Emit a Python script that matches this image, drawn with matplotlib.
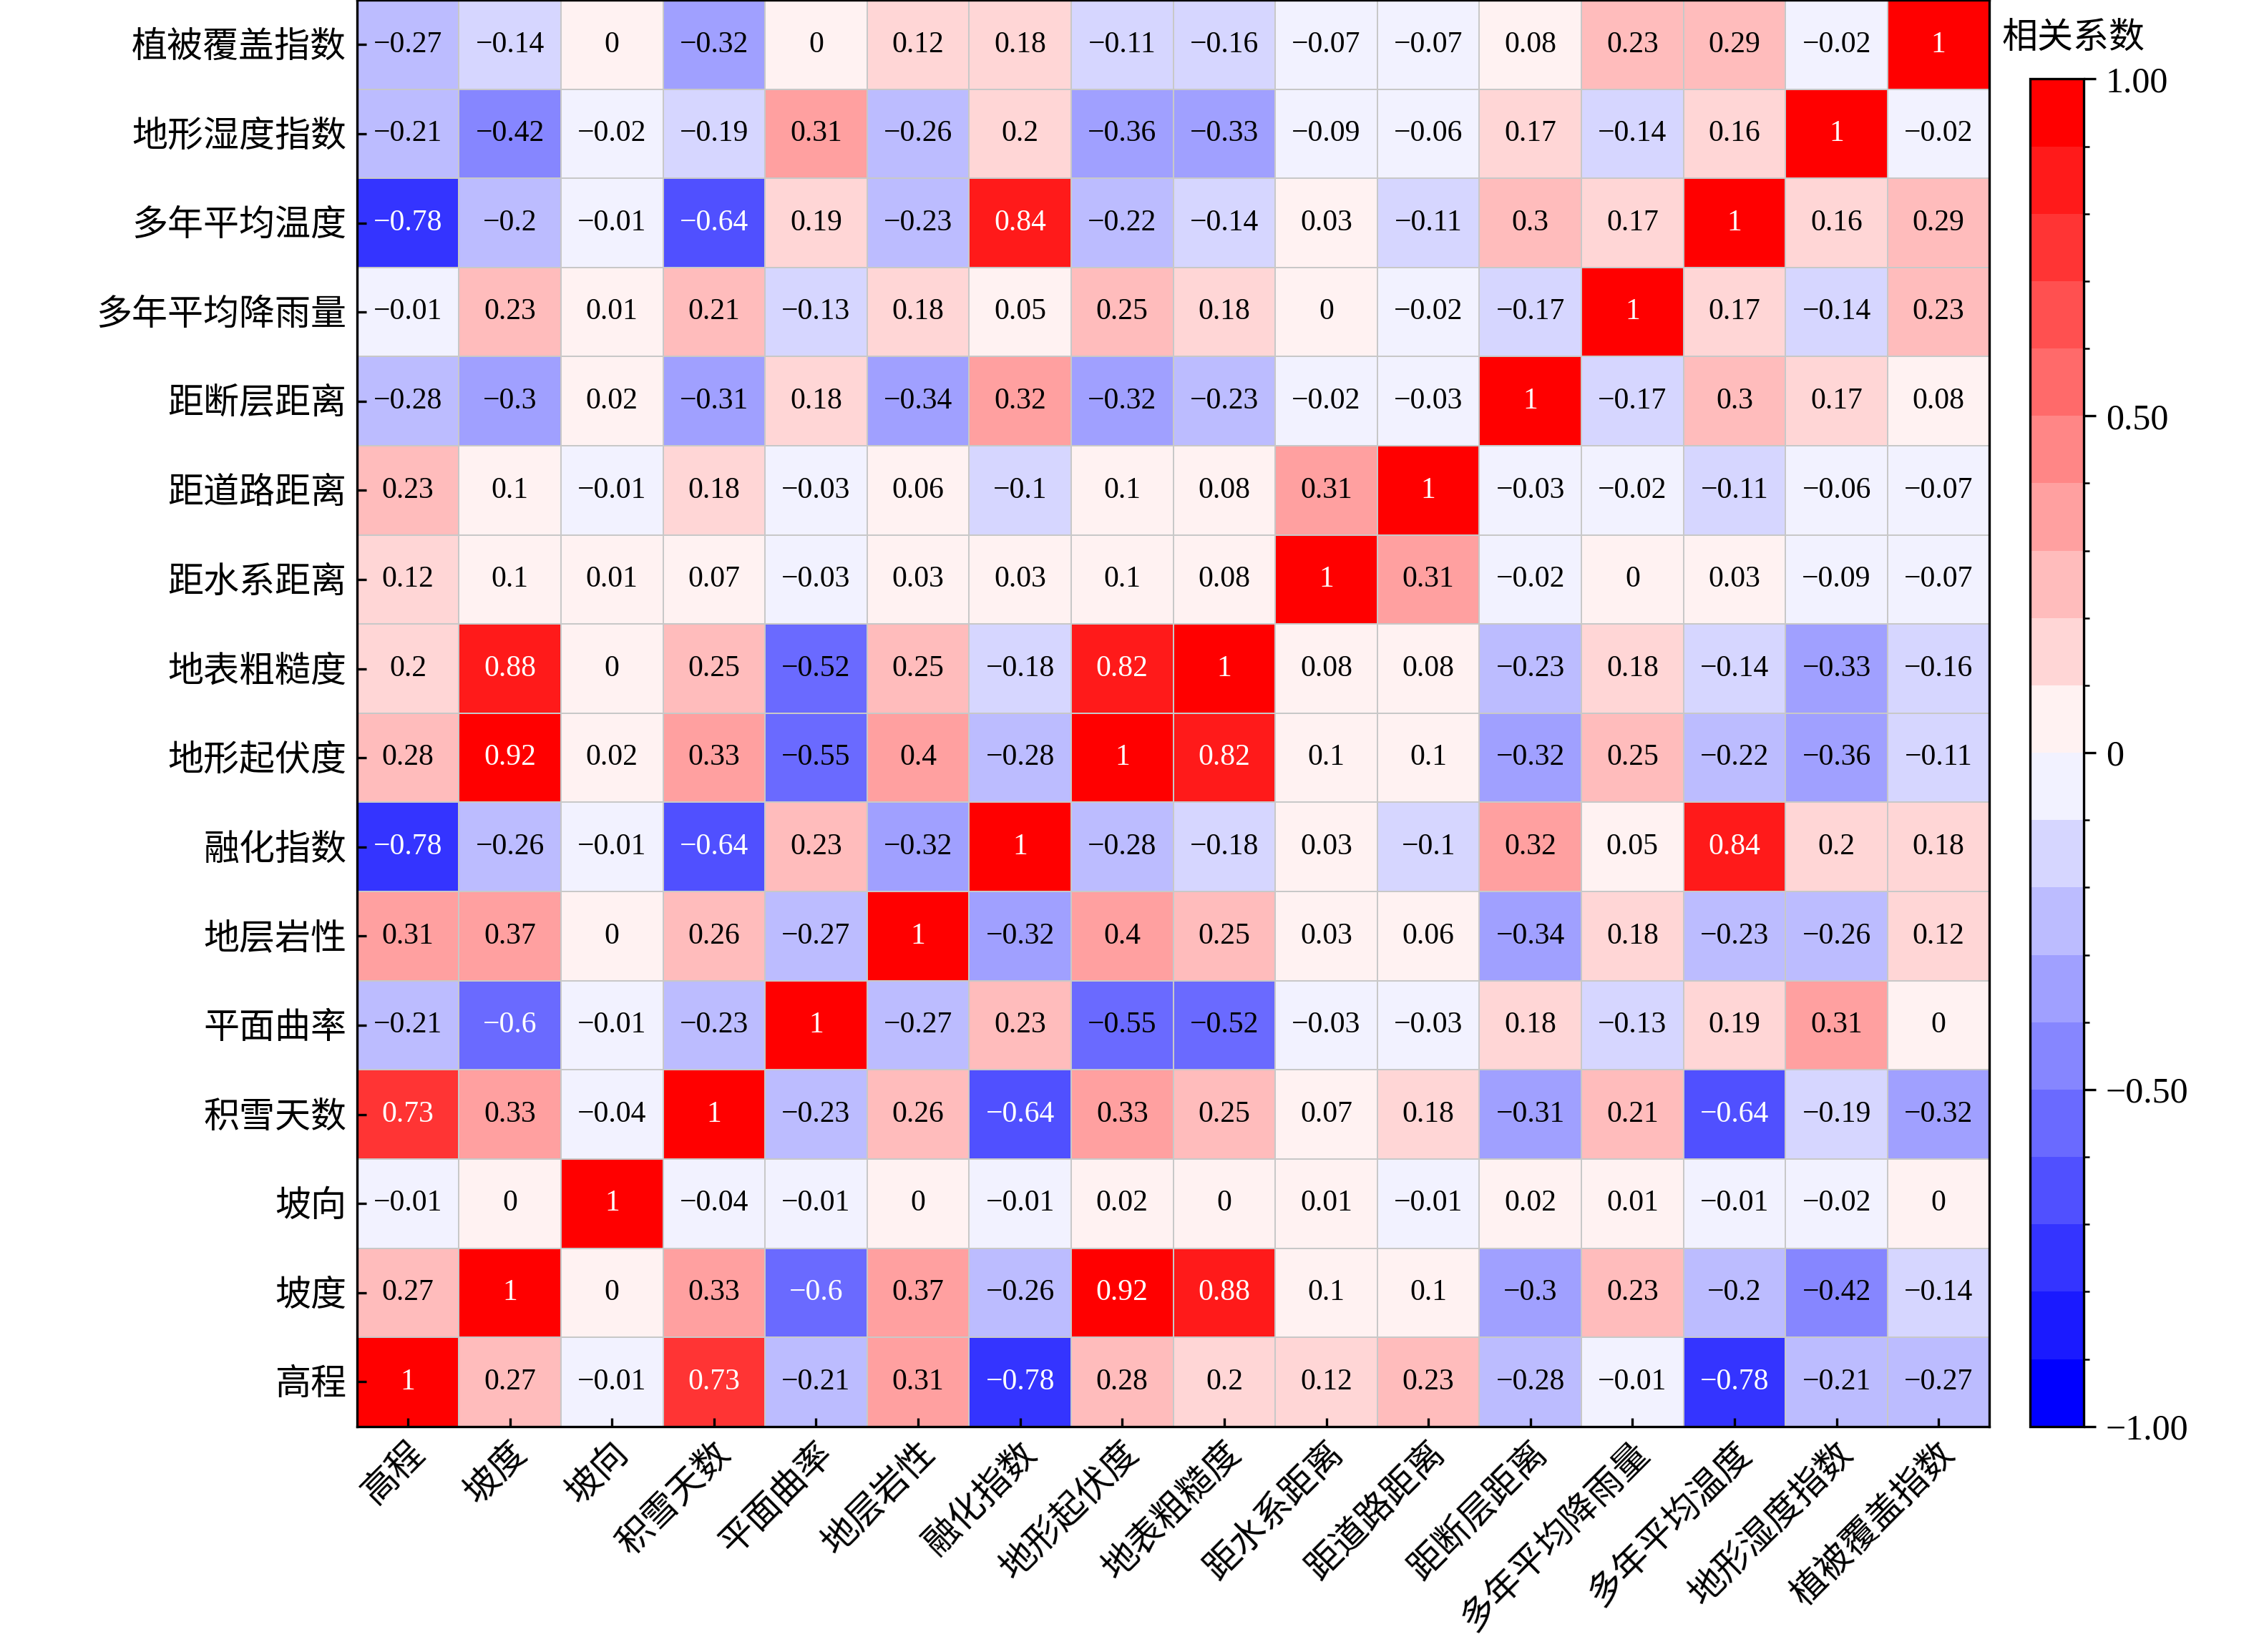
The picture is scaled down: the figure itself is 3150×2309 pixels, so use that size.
import numpy as np
import matplotlib
matplotlib.use("Agg")
import matplotlib.pyplot as plt
from matplotlib.colors import ListedColormap, BoundaryNorm

plt.rcParams['font.family'] = ['Liberation Serif', 'Noto Sans CJK SC', 'DejaVu Sans']
plt.rcParams['axes.unicode_minus'] = True

names = ['高程', '坡度', '坡向', '积雪天数', '平面曲率', '地层岩性', '融化指数', '地形起伏度',
         '地表粗糙度', '距水系距离', '距道路距离', '距断层距离', '多年平均降雨量', '多年平均温度',
         '地形湿度指数', '植被覆盖指数']

corr = np.array([
    [1, 0.27, -0.01, 0.73, -0.21, 0.31, -0.78, 0.28, 0.2, 0.12, 0.23, -0.28, -0.01, -0.78, -0.21, -0.27],
    [0.27, 1, 0, 0.33, -0.6, 0.37, -0.26, 0.92, 0.88, 0.1, 0.1, -0.3, 0.23, -0.2, -0.42, -0.14],
    [-0.01, 0, 1, -0.04, -0.01, 0, -0.01, 0.02, 0, 0.01, -0.01, 0.02, 0.01, -0.01, -0.02, 0],
    [0.73, 0.33, -0.04, 1, -0.23, 0.26, -0.64, 0.33, 0.25, 0.07, 0.18, -0.31, 0.21, -0.64, -0.19, -0.32],
    [-0.21, -0.6, -0.01, -0.23, 1, -0.27, 0.23, -0.55, -0.52, -0.03, -0.03, 0.18, -0.13, 0.19, 0.31, 0],
    [0.31, 0.37, 0, 0.26, -0.27, 1, -0.32, 0.4, 0.25, 0.03, 0.06, -0.34, 0.18, -0.23, -0.26, 0.12],
    [-0.78, -0.26, -0.01, -0.64, 0.23, -0.32, 1, -0.28, -0.18, 0.03, -0.1, 0.32, 0.05, 0.84, 0.2, 0.18],
    [0.28, 0.92, 0.02, 0.33, -0.55, 0.4, -0.28, 1, 0.82, 0.1, 0.1, -0.32, 0.25, -0.22, -0.36, -0.11],
    [0.2, 0.88, 0, 0.25, -0.52, 0.25, -0.18, 0.82, 1, 0.08, 0.08, -0.23, 0.18, -0.14, -0.33, -0.16],
    [0.12, 0.1, 0.01, 0.07, -0.03, 0.03, 0.03, 0.1, 0.08, 1, 0.31, -0.02, 0, 0.03, -0.09, -0.07],
    [0.23, 0.1, -0.01, 0.18, -0.03, 0.06, -0.1, 0.1, 0.08, 0.31, 1, -0.03, -0.02, -0.11, -0.06, -0.07],
    [-0.28, -0.3, 0.02, -0.31, 0.18, -0.34, 0.32, -0.32, -0.23, -0.02, -0.03, 1, -0.17, 0.3, 0.17, 0.08],
    [-0.01, 0.23, 0.01, 0.21, -0.13, 0.18, 0.05, 0.25, 0.18, 0, -0.02, -0.17, 1, 0.17, -0.14, 0.23],
    [-0.78, -0.2, -0.01, -0.64, 0.19, -0.23, 0.84, -0.22, -0.14, 0.03, -0.11, 0.3, 0.17, 1, 0.16, 0.29],
    [-0.21, -0.42, -0.02, -0.19, 0.31, -0.26, 0.2, -0.36, -0.33, -0.09, -0.06, 0.17, -0.14, 0.16, 1, -0.02],
    [-0.27, -0.14, 0, -0.32, 0, 0.12, 0.18, -0.11, -0.16, -0.07, -0.07, 0.08, 0.23, 0.29, -0.02, 1],
])

n = len(names)
cmap = ListedColormap(plt.get_cmap('bwr')(np.linspace(0, 1, 20)))
bounds = np.linspace(-1, 1, 21)
norm = BoundaryNorm(bounds, cmap.N)

fig = plt.figure(figsize=(10.5, 2309 / 300))
ax = fig.add_axes([247 / 1560, 1 - 993 / 1150, 1130 / 1560, 993 / 1150])
cax = fig.add_axes([1405 / 1560, 1 - 993 / 1150, 37 / 1560, 938 / 1150])

mesh = ax.pcolormesh(np.arange(n + 1), np.arange(n + 1), corr, cmap=cmap, norm=norm,
                     edgecolor='#c8c8c8', linewidth=0.4)
for i in range(n):
    for j in range(n):
        v = corr[i, j]
        s = '1' if v == 1 else ('0' if v == 0 else f'{v:g}'.replace('-', '\u2212'))
        col = 'white' if abs(v) >= 0.6 else 'black'
        ax.text(j + 0.5, i + 0.5, s, ha='center', va='center', fontsize=10, color=col)

ax.set_xlim(0, n)
ax.set_ylim(0, n)
ax.set_xticks(np.arange(n) + 0.5)
ax.set_yticks(np.arange(n) + 0.5)
ax.set_xticklabels(names, rotation=45, ha='right', rotation_mode='anchor', fontsize=12)
ax.set_yticklabels(names, fontsize=12)
ax.tick_params(length=3, direction='in')

cb = fig.colorbar(mesh, cax=cax, ticks=[-1, -0.5, 0, 0.5, 1])
cb.ax.set_yticklabels(['\u22121.00', '\u22120.50', '0', '0.50', '1.00'], fontsize=12)
cb.ax.tick_params(length=4)
cb.outline.set_linewidth(0.8)
fig.text(1435 / 1560, 1 - 27 / 1150, '相关系数', ha='center', va='center', fontsize=12)

fig.savefig('out.png', dpi=300)
